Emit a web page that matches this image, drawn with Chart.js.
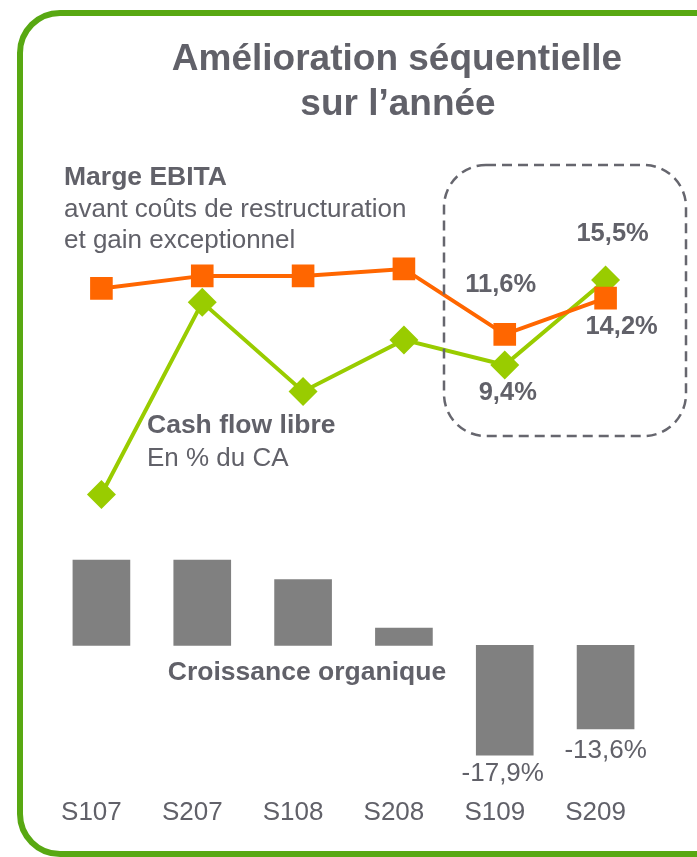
<!DOCTYPE html>
<html>
<head>
<meta charset="utf-8">
<script src="https://cdn.jsdelivr.net/npm/chart.js@4.4.0/dist/chart.umd.min.js"></script>
<style>
    html, body { margin: 0; padding: 0; background: #fff; }
</style>
</head>
<body>
<canvas id="myChart" width="697" height="857"></canvas>
<script>
// donnees
const periods     = ['S107', 'S207', 'S108', 'S208', 'S109', 'S209'];
const margeEbita  = [14.9, 15.8, 15.8, 16.3, 11.6, 14.2];
const cashFlow    = [0.1, 13.9, 7.5, 11.2, 9.4, 15.5];
const croissance  = [13.9, 13.9, 10.7, 2.8, -17.9, -13.6];

const GRAY   = '#616169';
const FONT   = "'Liberation Sans', Arial, sans-serif";

const fmt = (v) => v.toFixed(1).replace('.', ',') + '%';

const decor = {
    id: 'decor',
    afterDraw(chart) {
        const ctx = chart.ctx;
        ctx.save();

        // cadre vert
        ctx.strokeStyle = '#58a812';
        ctx.lineWidth = 6;
        ctx.beginPath();
        ctx.roundRect(20, 13, 740, 841, 40);
        ctx.stroke();

        // encadre pointille
        ctx.strokeStyle = '#66666e';
        ctx.lineWidth = 2.5;
        ctx.setLineDash([10, 6]);
        ctx.beginPath();
        ctx.roundRect(444, 165, 242, 271, 42);
        ctx.stroke();
        ctx.setLineDash([]);

        ctx.fillStyle = GRAY;
        ctx.textBaseline = 'alphabetic';

        // titre
        ctx.textAlign = 'center';
        ctx.font = 'bold 37px ' + FONT;
        ctx.fillText('Amélioration séquentielle', 397, 70);
        ctx.fillText('sur l’année', 398, 115);

        // libelles des series
        ctx.textAlign = 'left';
        ctx.font = 'bold 26.5px ' + FONT;
        ctx.fillText('Marge EBITA', 64, 185);
        ctx.fillText('Cash flow libre', 147, 433);
        ctx.font = '26px ' + FONT;
        ctx.fillText('avant coûts de restructuration', 64, 217);
        ctx.fillText('et gain exceptionnel', 64, 248);
        ctx.fillText('En % du CA', 147, 466);

        ctx.textAlign = 'center';
        ctx.font = 'bold 26.5px ' + FONT;
        ctx.fillText('Croissance organique', 307, 680);

        // etiquettes de valeurs
        ctx.textBaseline = 'middle';
        const ebita = chart.getDatasetMeta(0).data;
        const cash  = chart.getDatasetMeta(1).data;
        const bars  = chart.getDatasetMeta(2).data;

        ctx.font = 'bold 25.5px ' + FONT;
        ctx.fillText(fmt(margeEbita[4]), ebita[4].x - 4, ebita[4].y - 49);
        ctx.fillText(fmt(margeEbita[5]), ebita[5].x + 16, ebita[5].y + 29);
        ctx.fillText(fmt(cashFlow[4]), cash[4].x + 3, cash[4].y + 28);
        ctx.fillText(fmt(cashFlow[5]), cash[5].x + 7, cash[5].y - 46);

        ctx.font = '26px ' + FONT;
        ctx.fillText(fmt(croissance[4]), bars[4].x - 2, bars[4].y + 19);
        ctx.fillText(fmt(croissance[5]), bars[5].x, bars[5].y + 22);

        ctx.restore();
    }
};

new Chart(document.getElementById('myChart'), {
    type: 'bar',
    data: {
        labels: periods,
        datasets: [{
            type: 'line',
            label: 'Marge EBITA',
            data: margeEbita,
            yAxisID: 'yLine',
            borderColor: '#ff6600',
            backgroundColor: '#ff6600',
            borderWidth: 4,
            pointStyle: 'rect',
            pointRadius: 16,
            pointBorderWidth: 0,
            tension: 0
        }, {
            type: 'line',
            label: 'Cash flow libre',
            data: cashFlow,
            yAxisID: 'yLine',
            borderColor: '#99cc00',
            backgroundColor: '#99cc00',
            borderWidth: 4,
            pointStyle: 'rectRot',
            pointRadius: 14.5,
            pointBorderWidth: 0,
            tension: 0
        }, {
            label: 'Croissance organique',
            data: croissance,
            yAxisID: 'yBar',
            backgroundColor: '#808080',
            barThickness: 57
        }]
    },
    options: {
        responsive: false,
        animation: false,
        layout: {
            padding: { left: 51, right: 41, top: 150, bottom: 29 }
        },
        plugins: {
            legend: { display: false },
            tooltip: { enabled: false }
        },
        scales: {
            x: {
                grid: { display: false, drawTicks: false },
                border: { display: false },
                ticks: {
                    color: GRAY,
                    font: { family: FONT, size: 26 },
                    padding: 0,
                    labelOffset: -10
                }
            },
            yLine: {
                display: false,
                min: -21.61,
                max: 24.84
            },
            yBar: {
                display: false,
                min: -24.67,
                max: 80.70
            }
        }
    },
    plugins: [decor]
});
</script>
</body>
</html>
